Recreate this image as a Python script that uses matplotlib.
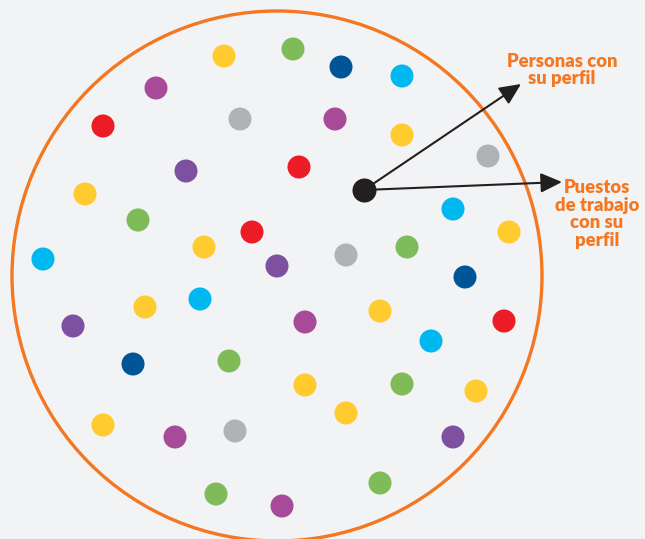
import matplotlib
matplotlib.use("Agg")
import matplotlib.pyplot as plt
from matplotlib.patches import Circle

# Data (pixel-like coordinates)
dot_x = [224, 293, 341, 402, 156, 103, 240, 335, 402, 488, 186, 299, 85, 138, 453, 509,
         252, 204, 346, 407, 43, 277, 465, 145, 200, 73, 305, 380, 504, 431, 133, 229,
         305, 402, 476, 346, 103, 175, 235, 453, 216, 282, 380]
dot_y = [56, 49, 67, 76, 88, 126, 119, 119, 135, 156, 171, 167, 194, 220, 209, 232,
         232, 247, 255, 247, 259, 266, 277, 307, 299, 326, 322, 311, 321, 341, 364, 361,
         385, 384, 391, 413, 425, 437, 431, 437, 494, 506, 483]
dot_kind = ["yellow", "green", "darkblue", "cyan", "magenta", "red", "gray", "magenta",
            "yellow", "gray", "purple", "red", "yellow", "green", "cyan", "yellow",
            "red", "yellow", "gray", "green", "cyan", "purple", "darkblue", "yellow",
            "cyan", "purple", "magenta", "yellow", "red", "cyan", "darkblue", "green",
            "yellow", "green", "yellow", "yellow", "yellow", "magenta", "gray", "purple",
            "green", "magenta", "green"]
center_point = (364, 190)
arrow_targets = [(521, 84), (562, 182)]
labels = ["Personas con\nsu perfil", "Puestos\nde trabajo\ncon su\nperfil"]
label_pos = [(562, 70), (597, 214)]

palette = {
    "yellow": "#ffcb2f", "green": "#80bb5a", "darkblue": "#005596", "cyan": "#00b8f0",
    "magenta": "#a74a98", "red": "#ec1c27", "gray": "#b1b2b5", "purple": "#7d519f",
}
orange = "#f47721"
bg = "#f2f3f5"

fig = plt.figure(figsize=(6.45, 5.39), dpi=100, facecolor=bg)
ax = fig.add_axes([0, 0, 1, 1], facecolor=bg)
ax.set_xlim(0, 645)
ax.set_ylim(539, 0)
ax.set_aspect("equal")
ax.axis("off")

ax.add_patch(Circle((277, 276), 265, fill=False, edgecolor=orange, linewidth=2.4, zorder=1))

ax.scatter(dot_x, dot_y, s=275, c=[palette[k] for k in dot_kind], linewidths=0, zorder=2)

for (tx, ty) in arrow_targets:
    ax.annotate("", xy=(tx, ty), xytext=center_point,
                arrowprops=dict(arrowstyle="-|>,head_length=1.3,head_width=0.6",
                                color="#231f20", lw=1.5, shrinkA=0, shrinkB=0),
                zorder=3)
ax.scatter([center_point[0]], [center_point[1]], s=300, c="#231f20", linewidths=0, zorder=4)

for txt, (lx, ly) in zip(labels, label_pos):
    ax.text(lx, ly, txt, ha="center", va="center", color=orange, fontsize=13.2,
            fontweight="heavy", family="Lato", linespacing=1.05, zorder=5)

fig.savefig("out.png", dpi=100, facecolor=bg)
